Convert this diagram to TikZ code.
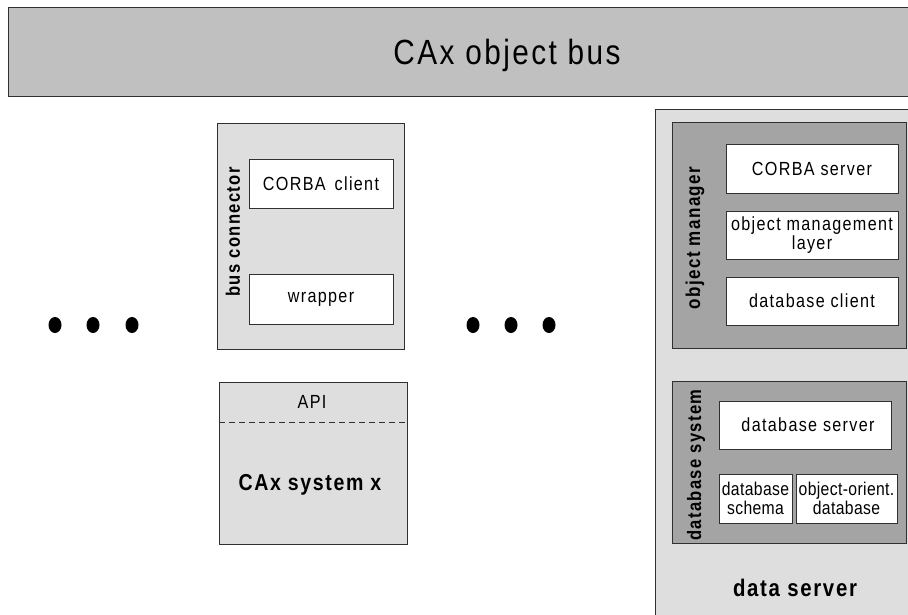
\documentclass[tikz,border=0pt]{standalone}
\usepackage{fontspec}
\setmainfont{Liberation Sans}[LetterSpace=7, FakeStretch=0.85]
\usetikzlibrary{shapes.geometric}
\definecolor{busgray}{HTML}{C0C0C0}
\definecolor{lightbox}{HTML}{DEDEDE}
\definecolor{darkbox}{HTML}{A4A4A4}
\definecolor{edge}{HTML}{303030}
\tikzset{
  x=1pt, y=-1pt,
  panel/.style={draw=edge, line width=0.9pt, anchor=north west, inner sep=0pt, outer sep=0pt},
  lightpanel/.style={panel, fill=lightbox},
  darkpanel/.style={panel, fill=darkbox},
  whitebox/.style={panel, fill=white, font=\fontsize{19}{18.5}\selectfont, align=center},
  narrowbox/.style={whitebox, font=\fontsize{18.5}{18.5}\selectfont\addfontfeature{LetterSpace=2}},
  sidelabel/.style={rotate=90, font=\bfseries\fontsize{19.5}{20}\selectfont, inner sep=0pt},
  biglabel/.style={font=\bfseries\fontsize{24}{25}\selectfont, inner sep=0pt},
  dot/.style={fill=black, ellipse, minimum width=13pt, minimum height=16pt, inner sep=0pt},
}
\begin{document}
\begin{tikzpicture}
\clip (0,0) rectangle (908,615);
\fill[white] (0,0) rectangle (908,615);

% object bus across the top
\node[panel, fill=busgray, minimum width=920pt, minimum height=89pt] (bus) at (8,7) {};
\node[font=\fontsize{35}{36}\selectfont, inner sep=0pt] (bustitle) at (507,55) {CAx object bus};

% bus connector
\node[lightpanel, minimum width=187pt, minimum height=226pt] (conn) at (217,123) {};
\node[whitebox, minimum width=144pt, minimum height=49pt] (client) at (249,159) {CORBA\, client};
\node[whitebox, minimum width=144pt, minimum height=50pt] (wrapper) at (249,274) {wrapper};
\node[sidelabel] (connlabel) at (233,232) {bus connector};

% CAx system with its API
\node[lightpanel, minimum width=188pt, minimum height=162pt] (cax) at (219,382) {};
\coordinate (apiL) at (219,422);
\coordinate (apiR) at (407,422);
\draw[edge, line width=0.8pt, dash pattern=on 6pt off 4pt] (apiL) -- (apiR);
\node[font=\fontsize{19}{19}\selectfont, inner sep=0pt] (api) at (312,402) {API};
\node[biglabel, font=\bfseries\fontsize{23}{24}\selectfont] (caxlabel) at (310,485) {CAx system x};

% continuation dots
\foreach \i/\px in {1/55, 2/93, 3/132, 4/473, 5/511, 6/549}
  \node[dot] (dot\i) at (\px,325) {};

% data server
\node[lightpanel, minimum width=270pt, minimum height=520pt] (ds) at (655,109) {};
\node[biglabel] (dslabel) at (795,588) {data server};

% object manager
\node[darkpanel, minimum width=234pt, minimum height=226pt] (om) at (672,122) {};
\node[whitebox, minimum width=172pt, minimum height=49pt] (cserver) at (726,144) {CORBA server};
\node[whitebox, minimum width=172pt, minimum height=48pt] (oml) at (726,211) {object management\\layer};
\node[whitebox, minimum width=172pt, minimum height=48pt] (dbclient) at (726,277) {database client};
\node[sidelabel, font=\bfseries\fontsize{20}{20}\selectfont] (omlabel) at (695,238) {object manager};

% database system
\node[darkpanel, minimum width=234pt, minimum height=162pt] (dbs) at (672,381) {};
\node[whitebox, minimum width=172pt, minimum height=48pt] (dbserver) at (719,401) {\hspace{6pt}database server};
\node[narrowbox, minimum width=73pt, minimum height=49pt] (schema) at (719,474) {database\\schema};
\node[narrowbox, minimum width=101pt, minimum height=49pt] (oodb) at (796,474) {object-orient.\\database};
\node[sidelabel] (dbslabel) at (696,465) {database system};
\end{tikzpicture}
\end{document}
